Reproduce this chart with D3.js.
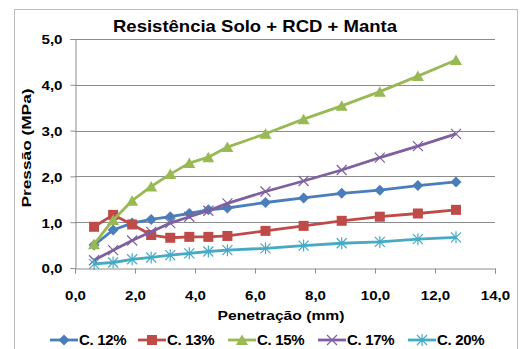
<!DOCTYPE html>
<html>
<head>
<meta charset="utf-8">
<script src="https://cdn.jsdelivr.net/npm/d3@7"></script>
<style>
  body { margin: 0; background: #fff; }
  text { font-family: "Liberation Sans", Arial, sans-serif; font-weight: bold; fill: #000; }
</style>
</head>
<body>
<script>
// penetration (mm) readings
var penetracao = [0.635, 1.27, 1.905, 2.54, 3.175, 3.81, 4.445, 5.08, 6.35, 7.62, 8.89, 10.16, 11.43, 12.7];

var c12 = [0.50, 0.83, 0.98, 1.06, 1.12, 1.19, 1.27, 1.31, 1.43, 1.53, 1.63, 1.70, 1.80, 1.88];
var c13 = [0.90, 1.16, 0.95, 0.72, 0.66, 0.68, 0.68, 0.70, 0.81, 0.92, 1.03, 1.12, 1.19, 1.27];
var c15 = [0.52, 1.05, 1.47, 1.78, 2.05, 2.29, 2.42, 2.64, 2.93, 3.25, 3.54, 3.85, 4.19, 4.54];
var c17 = [0.17, 0.39, 0.60, 0.79, 0.98, 1.12, 1.25, 1.41, 1.67, 1.90, 2.14, 2.41, 2.66, 2.93];
var c20 = [0.09, 0.12, 0.19, 0.23, 0.28, 0.32, 0.36, 0.39, 0.43, 0.49, 0.54, 0.57, 0.63, 0.67];

var seriesNames = ["C. 12%", "C. 13%", "C. 15%", "C. 17%", "C. 20%"];
var seriesValues = [c12, c13, c15, c17, c20];
var seriesColors = ["#4a7ebb", "#be4b48", "#98b954", "#7d60a0", "#46aac5"];
var seriesMarkers = ["diamond", "square", "triangle", "x", "star"];

var xTicks = [0, 2, 4, 6, 8, 10, 12, 14];
var yTicks = [0, 1, 2, 3, 4, 5];

var width = 522, height = 349;

var svg = d3.select("body").append("svg")
  .attr("width", width)
  .attr("height", height);

// chart frame
svg.append("rect")
  .attr("x", 14.5).attr("y", 9.5)
  .attr("width", 503).attr("height", 350)
  .attr("fill", "#fff")
  .attr("stroke", "#bdbdbd");

var x = d3.scaleLinear().domain([0, 14]).range([75, 495]);
var y = d3.scaleLinear().domain([0, 5]).range([268, 39]);

var fmt = d => d3.format(".1f")(d).replace(".", ",");

// the source picture is a bit stretched sideways, so widen the text to match
function widen(sel, k) {
  sel.each(function() {
    var w = this.getComputedTextLength();
    d3.select(this).attr("textLength", w * k).attr("lengthAdjust", "spacingAndGlyphs");
  });
}

// gridlines
svg.append("g")
  .selectAll("line")
  .data(yTicks.slice(1))
  .enter()
  .append("line")
  .attr("x1", x(0)).attr("x2", x(14))
  .attr("y1", d => Math.round(y(d)) + 0.5)
  .attr("y2", d => Math.round(y(d)) + 0.5)
  .attr("stroke", "#8c8c8c");

var yAxis = d3.axisLeft(y).tickValues(yTicks).tickSize(5).tickPadding(8).tickFormat(fmt);
var xAxis = d3.axisBottom(x).tickValues(xTicks).tickSize(5).tickPadding(17).tickFormat(fmt);

var gy = svg.append("g")
  .attr("transform", "translate(75.5,0)")
  .call(yAxis);
var gx = svg.append("g")
  .attr("transform", "translate(0,268.5)")
  .call(xAxis);

[gx, gy].forEach(g => {
  g.select(".domain").attr("stroke", "#8c8c8c");
  g.selectAll(".tick line").attr("stroke", "#8c8c8c");
  g.selectAll("text")
    .style("font-family", "'Liberation Sans', Arial, sans-serif")
    .style("font-weight", "bold")
    .style("font-size", "13.5px")
    .attr("fill", "#000")
    .call(widen, 1.12);
});
gy.selectAll("text").attr("dy", "0.36em");

// titles
svg.append("text")
  .attr("x", 255).attr("y", 32)
  .attr("text-anchor", "middle")
  .style("font-size", "17px")
  .attr("textLength", 284)
  .attr("lengthAdjust", "spacingAndGlyphs")
  .text("Resistência Solo + RCD + Manta");

svg.append("text")
  .attr("x", 281).attr("y", 320)
  .attr("text-anchor", "middle")
  .style("font-size", "13.5px")
  .attr("textLength", 127)
  .attr("lengthAdjust", "spacingAndGlyphs")
  .text("Penetração (mm)");

svg.append("text")
  .attr("transform", "translate(31,148) rotate(-90)")
  .attr("text-anchor", "middle")
  .style("font-size", "13.5px")
  .attr("textLength", 119)
  .attr("lengthAdjust", "spacingAndGlyphs")
  .text("Pressão (MPa)");

function drawMarker(g, type, color) {
  if (type === "diamond") {
    g.append("path").attr("d", "M0,-5.5L5.5,0L0,5.5L-5.5,0Z").attr("fill", color);
  } else if (type === "square") {
    g.append("rect").attr("x", -5).attr("y", -5).attr("width", 10).attr("height", 10)
      .attr("fill", color);
  } else if (type === "triangle") {
    g.append("path").attr("d", "M0,-5.5L6,5L-6,5Z").attr("fill", color);
  } else if (type === "x") {
    g.append("path").attr("d", "M-5,-5L5,5M-5,5L5,-5")
      .attr("stroke", color).attr("stroke-width", 1.2).attr("fill", "none");
  } else if (type === "star") {
    g.append("path").attr("d", "M-5,-5L5,5M-5,5L5,-5M0,-6L0,6")
      .attr("stroke", color).attr("stroke-width", 1.2).attr("fill", "none");
  }
}

var line = d3.line()
  .x((d, i) => x(penetracao[i]))
  .y(d => y(d));

seriesValues.forEach((vals, s) => {
  svg.append("path")
    .datum(vals)
    .attr("d", line)
    .attr("fill", "none")
    .attr("stroke", seriesColors[s])
    .attr("stroke-width", 2.8)
    .attr("stroke-linejoin", "round");

  vals.forEach((v, i) => {
    var g = svg.append("g")
      .attr("transform", `translate(${x(penetracao[i])},${y(v)})`);
    drawMarker(g, seriesMarkers[s], seriesColors[s]);
  });
});

// legend
var legendX = [50, 138, 228, 318, 408];
seriesNames.forEach((name, s) => {
  var g = svg.append("g").attr("transform", `translate(${legendX[s]},340)`);
  g.append("line").attr("x1", 0).attr("x2", 28)
    .attr("stroke", seriesColors[s]).attr("stroke-width", 2.8);
  var m = g.append("g").attr("transform", "translate(14,0)");
  drawMarker(m, seriesMarkers[s], seriesColors[s]);
  g.append("text")
    .attr("x", 29).attr("y", 0).attr("dy", "0.36em")
    .style("font-size", "15px")
    .style("letter-spacing", "-0.3px")
    .text(name);
});
</script>
</body>
</html>
